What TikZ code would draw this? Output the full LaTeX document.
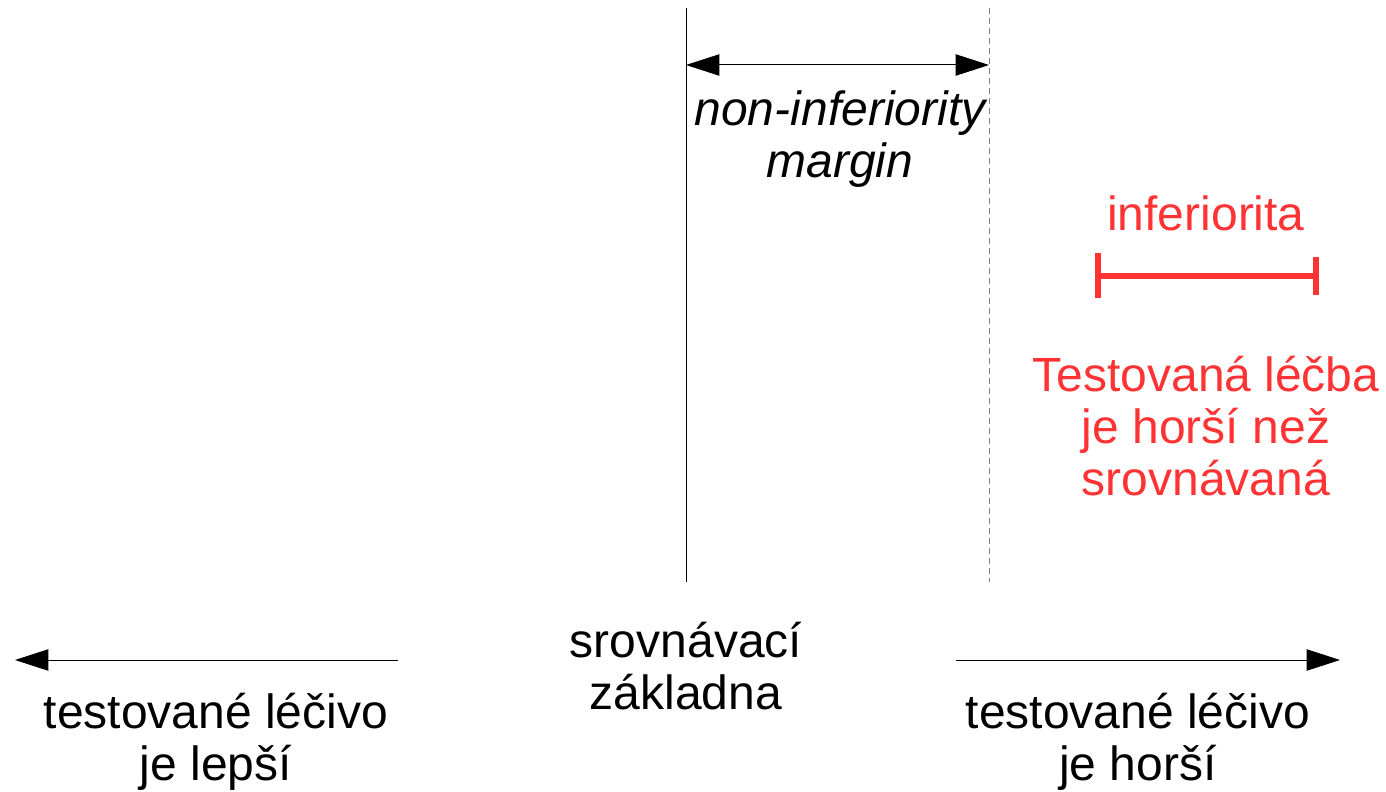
\documentclass[tikz,border=0pt]{standalone}
\usepackage{fontspec}
\setmainfont{Liberation Sans}
\usetikzlibrary{arrows.meta}
\definecolor{myred}{HTML}{FF3333}
\begin{document}
\begin{tikzpicture}[x=0.75pt,y=-0.75pt,
  lbl/.style={font=\fontsize{36pt}{39pt}\selectfont, align=center, inner sep=0pt, anchor=base},
  thinln/.style={line width=0.75pt, black},
  bigtip/.style={-{Triangle[length=25pt,width=16pt]}},
  redtxt/.style={lbl, text=myred}]
\useasboundingbox (0,0) rectangle (1386,792);
% vertical lines
\coordinate (solidtop) at (686,8);
\coordinate (solidbot) at (686,582);
\coordinate (dashtop) at (989,8);
\coordinate (dashbot) at (989,582);
\draw[thinln] (solidtop) -- (solidbot);
\draw[line width=0.75pt, gray, dash pattern=on 4.5pt off 3pt] (dashtop) -- (dashbot);
% margin arrow
\coordinate (ml) at (686,65);
\coordinate (mr) at (989,65);
\draw[thinln, {Triangle[length=25pt,width=16pt]}-{Triangle[length=25pt,width=16pt]}] (ml) -- (mr);
\node[lbl, font=\fontsize{36pt}{39pt}\selectfont\itshape] (nim) at (840,177) {non-inferiority\\margin};
% inferiorita
\node[redtxt] (inf) at (1206,230) {inferiorita};
\coordinate (il) at (1098,276);
\coordinate (ir) at (1316,276);
\draw[myred, line width=4.5pt] (il) -- (ir);
\draw[myred, line width=4.5pt] (1098,253) -- (1098,298);
\draw[myred, line width=4.5pt] (1316,257) -- (1316,295);
\node[redtxt] (tl) at (1206,495) {Testovaná léčba\\je horší než\\srovnávaná};
% axis
\node[lbl] (base) at (686,709) {srovnávací\\základna};
\coordinate (la) at (398,660);
\coordinate (lb) at (15,660);
\coordinate (ra) at (956,660);
\coordinate (rb) at (1340,660);
\draw[thinln, bigtip] (la) -- (lb);
\draw[thinln, bigtip] (ra) -- (rb);
\node[lbl] (better) at (216,780) {testované léčivo\\je lepší};
\node[lbl] (worse) at (1138,780) {testované léčivo\\je horší};
\end{tikzpicture}
\end{document}
